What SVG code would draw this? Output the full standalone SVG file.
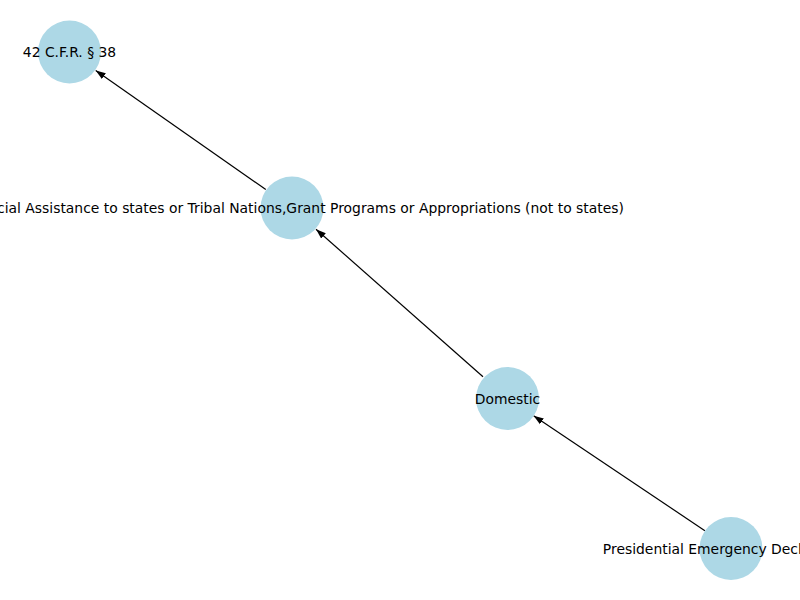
<svg xmlns="http://www.w3.org/2000/svg" width="800" height="600" viewBox="0 0 800 600">
<style>
.node circle{fill:#add8e6;stroke:none}
.node text{font-family:"DejaVu Sans",sans-serif;font-size:13.9px;fill:#000;text-anchor:middle;dominant-baseline:central}
.edge{stroke:#000;stroke-width:1.2;fill:none;marker-end:url(#arr)}
</style>
<defs>
<marker id="arr" markerUnits="userSpaceOnUse" markerWidth="12" markerHeight="10" refX="10" refY="0" viewBox="0 -5 12 10" orient="auto">
<path d="M0,-3.5 L10,0 L0,3.5 z" fill="#000"/>
</marker>
</defs>
<rect width="800" height="600" fill="#fff"/>
<g id="connectors">
<line class="edge" x1="704.9" y1="530.7" x2="533.6" y2="415.8"/>
<line class="edge" x1="483.0" y1="376.8" x2="316.0" y2="229.2"/>
<line class="edge" x1="265.8" y1="189.6" x2="95.7" y2="70.4"/>
</g>
<g id="node-cfr" class="node">
<circle cx="69.5" cy="52" r="31.5"/>
<text x="69.5" y="52">42 C.F.R. § 38</text>
</g>
<g id="node-financial" class="node">
<circle cx="292" cy="208" r="31.5"/>
<text x="292" y="208">Financial Assistance to states or Tribal Nations,Grant Programs or Appropriations (not to states)</text>
</g>
<g id="node-domestic" class="node">
<circle cx="507.5" cy="398.5" r="31.5"/>
<text x="507.5" y="398.5">Domestic</text>
</g>
<g id="node-presidential" class="node">
<circle cx="731" cy="548.5" r="31.5"/>
<text x="727" y="548.5">Presidential Emergency Declaration</text>
</g>
</svg>
